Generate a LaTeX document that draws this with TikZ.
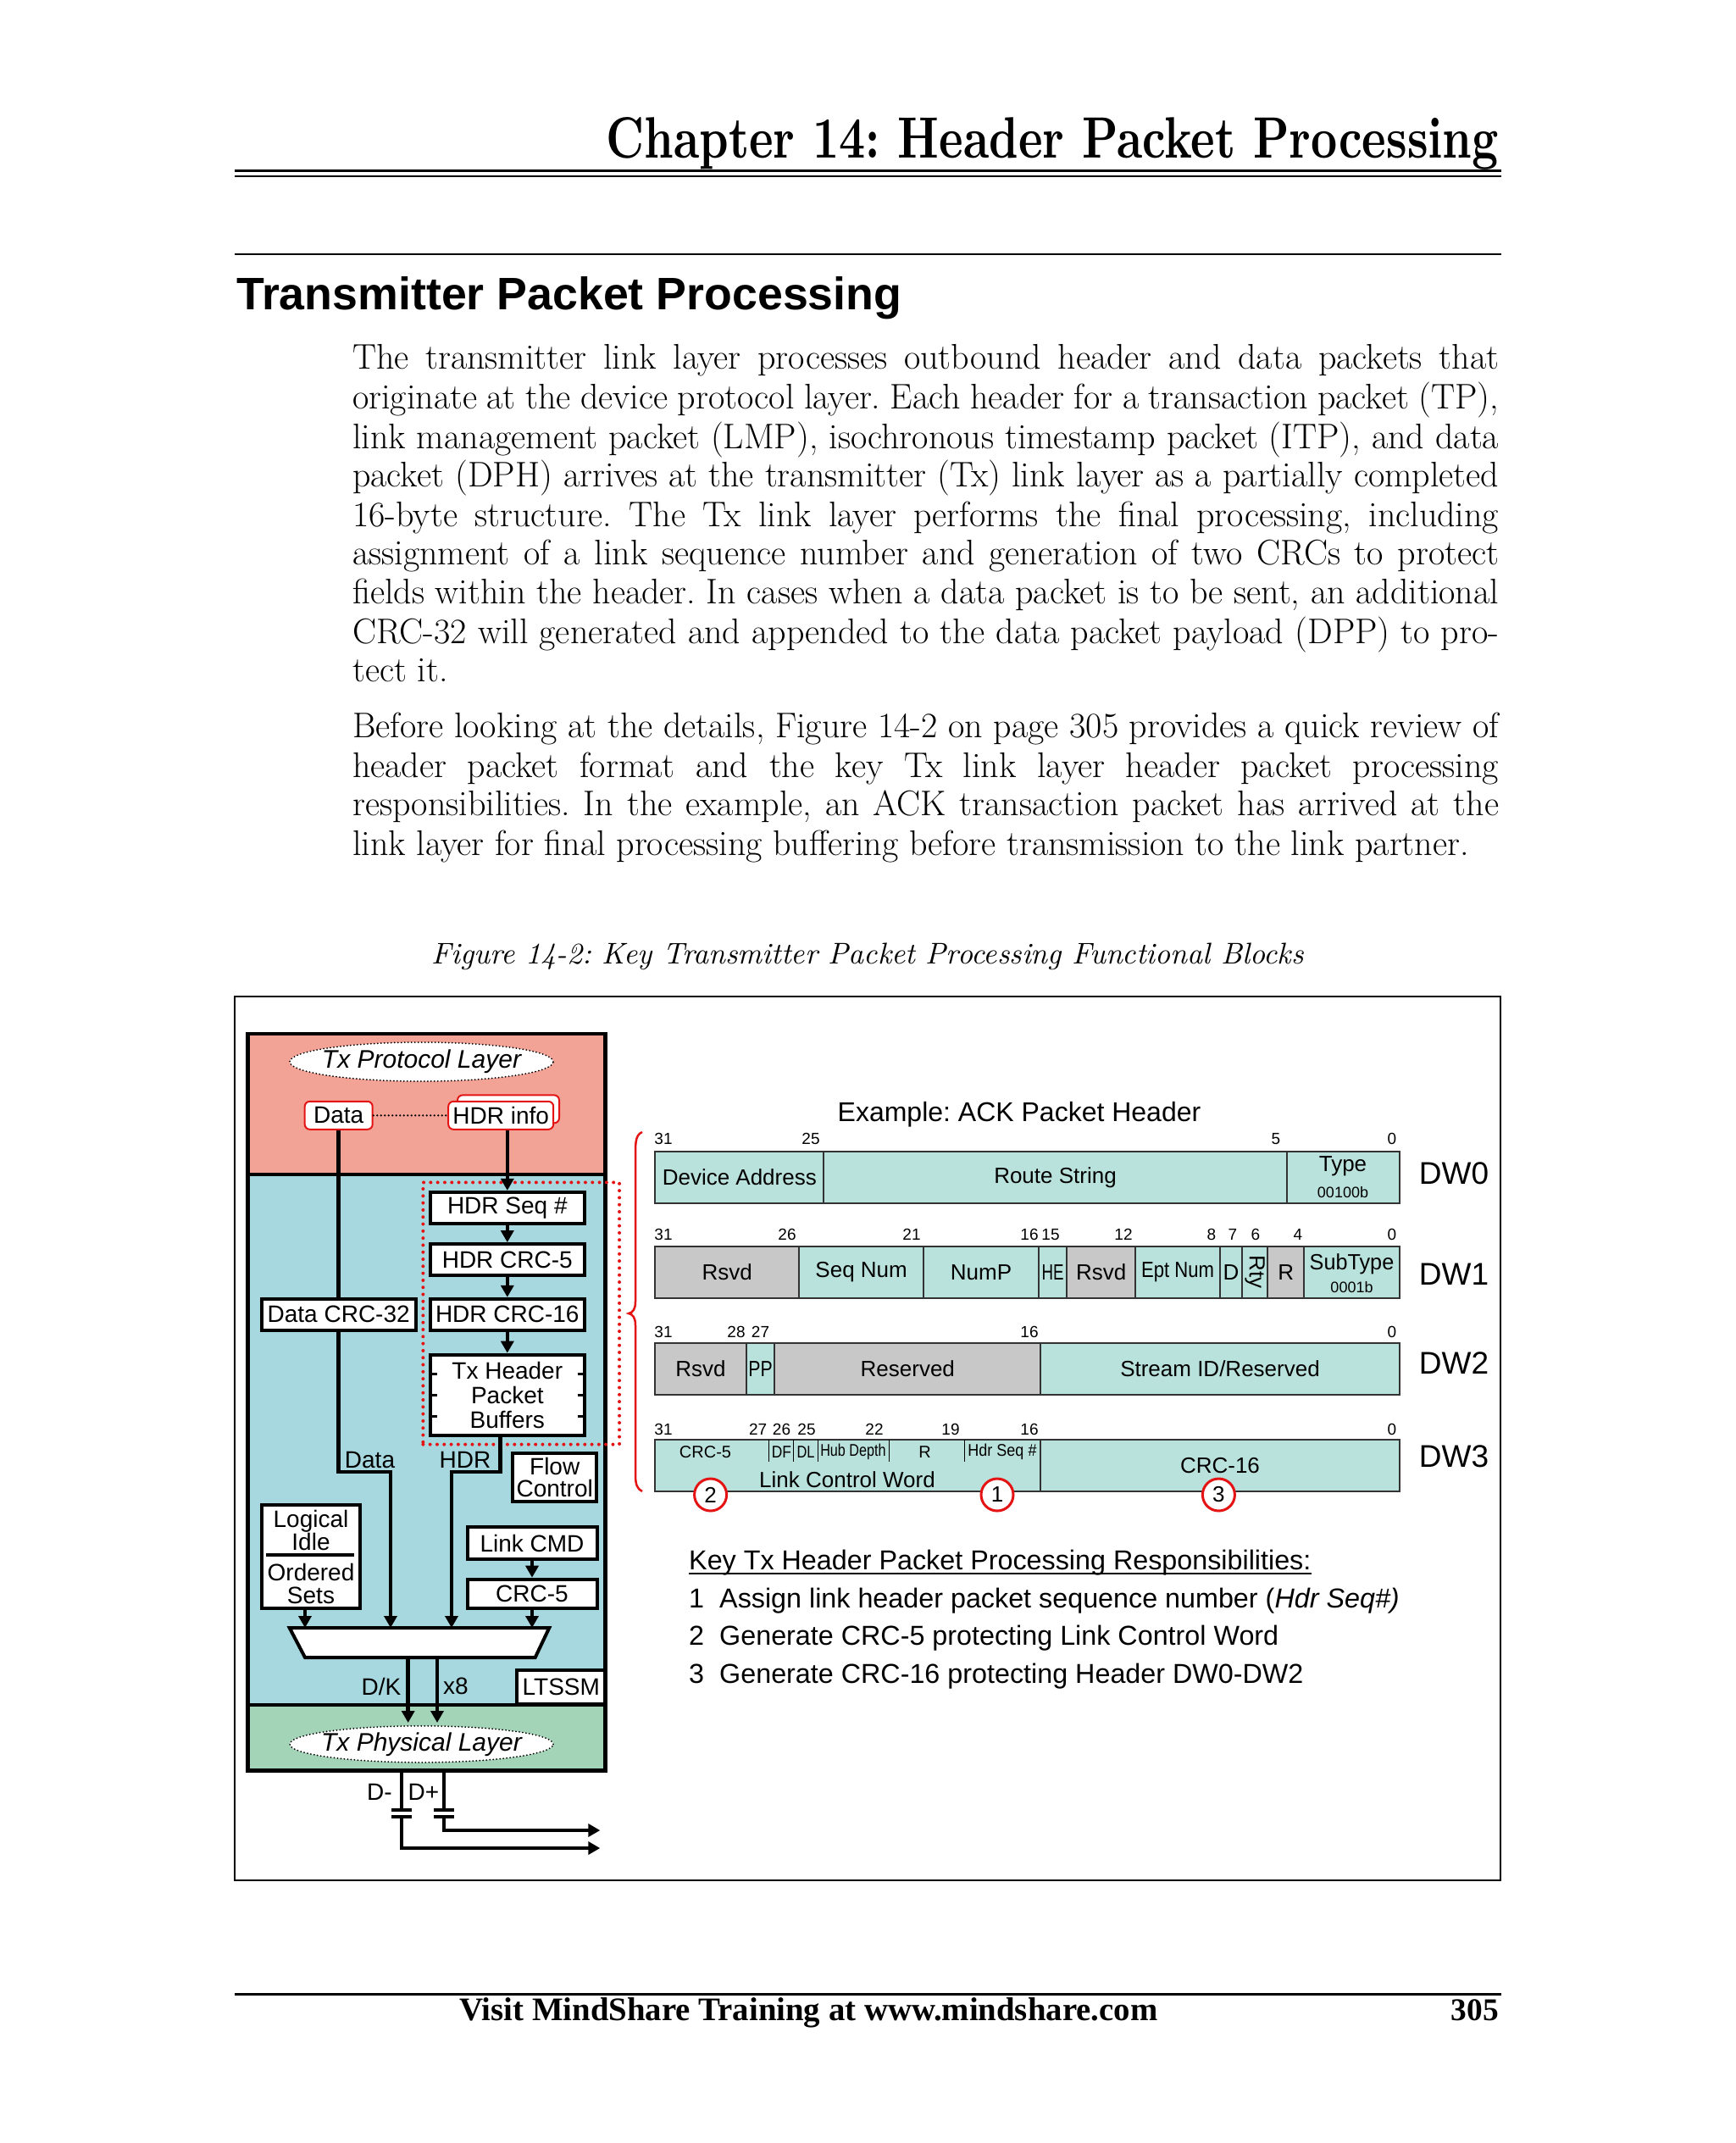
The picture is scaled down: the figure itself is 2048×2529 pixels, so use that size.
\documentclass[tikz,border=0pt]{standalone}
\usepackage{fontspec}
\usepackage{graphicx}
\usetikzlibrary{arrows.meta,shapes.geometric,calc}
\newfontfamily\arialf{Liberation Sans}
\newfontfamily\timesf{Liberation Serif}
\definecolor{salmon}{RGB}{243,163,150}
\definecolor{lblue}{RGB}{167,216,224}
\definecolor{lgreen}{RGB}{164,212,184}
\definecolor{hteal}{RGB}{186,226,220}
\definecolor{hgray}{RGB}{200,200,200}
\definecolor{dred}{RGB}{228,20,20}
\newcommand{\hcell}[7]{\node[hc, fill=#6, minimum width={#3-#2}, minimum height={#5-#4}] (#1) at ({(#2+#3)/2},{(#4+#5)/2}) {};
  \node[ht] (#1t) at ({(#2+#3)/2},{(#4+#5)/2}) {#7};}
\newcommand{\narrow}[2]{\scalebox{#1}[1]{#2}}
\frenchspacing
\begin{document}
\begin{tikzpicture}[x=1pt,y=-1pt,
  box/.style={draw, line width=4pt, fill=white, inner sep=0pt, align=center, font=\arialf\fontsize{28}{27}\selectfont},
  rbox/.style={draw=dred, line width=2pt, rounded corners=6pt, fill=white, inner sep=0pt, font=\arialf\fontsize{28}{27}\selectfont},
  ell/.style={ellipse, draw, line width=2pt, dash pattern=on 0pt off 4pt, line cap=round, fill=white, inner sep=0pt},
  elltext/.style={inner sep=0pt, font=\arialf\itshape\fontsize{30}{30}\selectfont},
  wire/.style={line width=4.5pt},
  arr/.style={line width=4.5pt, -{Triangle[length=14pt,width=15pt]}},
  lab/.style={inner sep=0pt, font=\arialf\fontsize{28}{27}\selectfont},
  hc/.style={draw=black!80, line width=2pt, inner sep=0pt},
  ht/.style={inner sep=0pt, align=center, font=\arialf\fontsize{26}{26}\selectfont},
  hs/.style={inner sep=0pt, font=\arialf\fontsize{20}{20}\selectfont},
  bits/.style={inner sep=0pt, font=\arialf\fontsize{19}{19}\selectfont},
  dwl/.style={inner sep=0pt, font=\arialf\fontsize{37}{37}\selectfont},
  circ/.style={circle, draw=dred, line width=3pt, fill=white, minimum size=38pt, inner sep=0pt, font=\arialf\fontsize{26}{26}\selectfont},
  key/.style={inner sep=0pt, anchor=base west, font=\arialf\fontsize{32.3}{32.3}\selectfont},
  body/.style={inner sep=0pt, anchor=base west, font=\fontsize{42}{48}\selectfont},
]
\fill[white] (0,0) rectangle (2048,2529);
\useasboundingbox (0,0) rectangle (2048,2529);

% ---------- page header ----------
\node[anchor=base east, inner sep=0pt] (title) at (1769,186) {\resizebox{1053pt}{48pt}{\bfseries Chapter 14: Header Packet Processing}};
\draw[line width=3pt] (277,201.5) -- (1772,201.5);
\draw[line width=2pt] (277,207.5) -- (1772,207.5);
\draw[line width=2pt] (277,300) -- (1772,300);
\node[anchor=base west, inner sep=0pt] (head) at (279,365) {\resizebox{785pt}{!}{\arialf\bfseries Transmitter Packet Processing}};

% ---------- body text ----------
\node[body] (p1a) at (416,435.5) {\makebox[1353pt][s]{The transmitter link layer processes outbound header and data packets that}};
\node[body] (p1b) at (416,482.3) {\makebox[1353pt][s]{originate at the device protocol layer. Each header for a transaction packet (TP),}};
\node[body] (p1c) at (416,529) {\makebox[1353pt][s]{link management packet (LMP), isochronous timestamp packet (ITP), and data}};
\node[body] (p1d) at (416,574.2) {\makebox[1353pt][s]{packet (DPH) arrives at the transmitter (Tx) link layer as a partially completed}};
\node[body] (p1e) at (416,621) {\makebox[1353pt][s]{16-byte structure. The Tx link layer performs the final processing, including}};
\node[body] (p1f) at (416,666.1) {\makebox[1353pt][s]{assignment of a link sequence number and generation of two CRCs to protect}};
\node[body] (p1g) at (416,712.9) {\makebox[1353pt][s]{fields within the header. In cases when a data packet is to be sent, an additional}};
\node[body] (p1h) at (416,759.6) {\makebox[1353pt][s]{CRC-32 will generated and appended to the data packet payload (DPP) to pro-}};
\node[body] (p1i) at (416,804.8) {tect it.};
\node[body] (p2a) at (416,870.9) {\makebox[1353pt][s]{Before looking at the details, Figure 14-2 on page 305 provides a quick review of}};
\node[body] (p2b) at (416,917.7) {\makebox[1353pt][s]{header packet format and the key Tx link layer header packet processing}};
\node[body] (p2c) at (416,962.8) {\makebox[1353pt][s]{responsibilities. In the example, an ACK transaction packet has arrived at the}};
\node[body] (p2d) at (416,1009.6) {link layer for final processing buffering before transmission to the link partner.};

% ---------- caption and frame ----------
\node[anchor=base, inner sep=0pt] (cap) at (1024,1137) {\resizebox{1029pt}{!}{\itshape Figure 14-2: Key Transmitter Packet Processing Functional Blocks}};
\draw[line width=2pt] (277,1176) rectangle (1771,2219);

% ---------- left block diagram ----------
\node[fill=salmon, minimum width=421.6pt, minimum height=165.7pt, inner sep=0pt] (prot) at (503.5,1302.85) {};
\node[fill=lblue, minimum width=421.6pt, minimum height=626.3pt, inner sep=0pt] (link) at (503.5,1698.85) {};
\node[fill=lgreen, minimum width=421.6pt, minimum height=77.3pt, inner sep=0pt] (phy) at (503.5,2050.65) {};
\draw[line width=4.5pt] (prot.north west) rectangle (phy.south east);
\draw[line width=4.5pt] (prot.south west) -- (prot.south east);
\draw[line width=4.5pt] (phy.north west) -- (phy.north east);

\node[ell, minimum width=311pt, minimum height=46pt] (protl) at (497.5,1253) {};
\node[elltext] (protlt) at (497.5,1253) {Tx Protocol Layer};
\node[rbox, minimum width=120pt, minimum height=33pt] (hdrsh) at (600,1308.9) {};
\node[rbox, minimum width=80pt, minimum height=33pt] (data) at (399.7,1316.3) {Data};
\node[rbox, minimum width=124pt, minimum height=33pt] (hdr) at (591.2,1316.3) {HDR info};
\draw[line width=2.5pt, dash pattern=on 0pt off 4.5pt, line cap=round] (data.east) -- (hdr.west);

\node[box, minimum width=182pt, minimum height=37pt] (seq) at (598.8,1425.4) {HDR Seq \#};
\node[box, minimum width=182pt, minimum height=37pt] (hcrc5) at (598.8,1486.6) {HDR CRC-5};
\node[box, minimum width=182pt, minimum height=37pt] (hcrc16) at (598.8,1551.3) {HDR CRC-16};
\node[box, minimum width=182pt, minimum height=95.5pt, font=\arialf\fontsize{28}{29}\selectfont] (buf) at (598.8,1646.4) {Tx Header\\Packet\\Buffers};
\foreach \yy in {1621.8,1646.8,1671.8} {
  \draw[line width=3pt] (507,\yy) -- (516,\yy);
  \draw[line width=3pt] (681.5,\yy) -- (690.7,\yy);
}
\node[box, minimum width=182pt, minimum height=37pt] (dcrc) at (399.7,1551.3) {Data CRC-32};

\node[draw=dred, line width=4pt, dash pattern=on 0pt off 8.3pt, line cap=round, minimum width=231.7pt, minimum height=309.2pt, inner sep=0pt] (grp) at (615.2,1550) {};

\draw[wire] (data.south) -- (dcrc.north);
\draw[arr] (hdr.south -| seq.north) -- (seq.north);
\draw[arr] (seq) -- (hcrc5);
\draw[arr] (hcrc5) -- (hcrc16);
\draw[arr] (hcrc16) -- (buf);

% mux
\coordinate (muxA) at (360,1921);
\coordinate (muxB) at (461,1921);
\coordinate (muxC) at (533,1921);
\coordinate (muxD) at (630,1921);
\coordinate (outA) at (481.7,1956);
\coordinate (outB) at (516,1956);
\draw[line width=4pt, fill=white] (341.7,1921) -- (648.3,1921) -- (631.7,1956) -- (360,1956) -- cycle;

\draw[arr] (dcrc.south) -- ++(0,165.2) -| (muxB);
\draw[arr] ($(buf.south)+(-8.5,0)$) -- ++(0,41) -| (muxC);
\node[lab] (ldata) at (436.5,1723.3) {Data};
\node[lab] (lhdr) at (549,1723.3) {HDR};

\node[box, minimum width=99pt, minimum height=57pt, font=\arialf\fontsize{28}{26}\selectfont] (flow) at (654.7,1743) {Flow\\Control};
\node[box, minimum width=116pt, minimum height=122pt] (lis) at (367,1836.7) {};
\node[lab, align=center] (lidle) at (367,1806) {Logical\\Idle};
\node[lab, align=center] (osets) at (367,1869) {Ordered\\Sets};
\draw[line width=4pt] (314,1835) -- (417.7,1835);
\node[box, minimum width=153pt, minimum height=38pt] (lcmd) at (628,1821.2) {Link CMD};
\node[box, minimum width=153pt, minimum height=34pt] (crc5) at (628,1880.7) {CRC-5};
\draw[arr] (lcmd) -- (crc5);
\draw[arr] (crc5.south) -- (crc5.south |- muxD);
\draw[arr] (lis.south -| muxA) -- (muxA);

\coordinate (phA) at (481.7,2033);
\coordinate (phB) at (516,2033);
\draw[arr] (outA) -- (phA);
\draw[arr] (outB) -- (phB);
\node[lab] (ldk) at (450,1990) {D/K};
\node[lab] (lx8) at (538,1990) {x8};
\node[box, minimum width=104pt, minimum height=40pt] (ltssm) at (662.3,1990.5) {LTSSM};
\node[ell, minimum width=311pt, minimum height=43pt] (phyl) at (497.5,2058.3) {};
\node[elltext] (phylt) at (497.5,2058.3) {Tx Physical Layer};

% outputs with capacitors
\coordinate (dm) at (474,2136);
\coordinate (dm2) at (474,2144.3);
\coordinate (dp) at (524,2136);
\coordinate (dp2) at (524,2144.3);
\coordinate (outm) at (708.3,2181);
\coordinate (outp) at (708.3,2160);
\draw[wire] (phy.south -| dm) -- (dm);
\draw[wire] (phy.south -| dp) -- (dp);
\draw[line width=4pt] (461.7,2136) -- (486,2136);
\draw[line width=4pt] (461.7,2144.3) -- (486,2144.3);
\draw[line width=4pt] (511.7,2136) -- (536,2136);
\draw[line width=4pt] (511.7,2144.3) -- (536,2144.3);
\draw[arr] (dm2) |- (outm);
\draw[arr] (dp2) |- (outp);
\node[lab] (ldm) at (448,2115) {D-};
\node[lab] (ldp) at (500,2115) {D+};

% ---------- right: header format ----------
\node[inner sep=0pt, font=\arialf\fontsize{32}{32}\selectfont] (ex) at (1203,1315) {Example: ACK Packet Header};
\draw[dred, line width=2.5pt] (758,1336) .. controls (751,1339) and (750,1346) .. (750,1360) -- (750,1536) .. controls (750,1545) and (747,1549) .. (742,1550) .. controls (747,1551) and (750,1555) .. (750,1564) -- (750,1740) .. controls (750,1752) and (752,1757) .. (758,1760);

% DW0
\hcell{da}{773.3}{972.3}{1359.3}{1420}{hteal}{Device Address}
\hcell{rs}{972.3}{1518.7}{1359.3}{1420}{hteal}{Route String}
\hcell{ty}{1518.7}{1651.7}{1359.3}{1420}{hteal}{}
\node[ht] (tyt) at (1585,1376.7) {Type};
\node[inner sep=0pt, font=\arialf\fontsize{18}{18}\selectfont] (tyv) at (1585,1406.7) {00100b};
\node[bits] (b0a) at (783,1344) {31};
\node[bits] (b0b) at (957,1344) {25};
\node[bits] (b0c) at (1506,1344) {5};
\node[bits] (b0d) at (1643,1344) {0};

% DW1
\hcell{r1a}{773.3}{943.3}{1470.7}{1531.7}{hgray}{Rsvd}
\hcell{r1b}{943.3}{1090}{1470.7}{1531.7}{hteal}{Seq Num}
\hcell{r1c}{1090}{1226}{1470.7}{1531.7}{hteal}{NumP}
\hcell{r1d}{1226}{1259.3}{1470.7}{1531.7}{hteal}{\narrow{0.72}{HE}}
\hcell{r1e}{1259.3}{1340}{1470.7}{1531.7}{hgray}{Rsvd}
\hcell{r1f}{1340}{1440}{1470.7}{1531.7}{hteal}{\narrow{0.85}{Ept Num}}
\hcell{r1g}{1440}{1466}{1470.7}{1531.7}{hteal}{D}
\hcell{r1h}{1466}{1496}{1470.7}{1531.7}{hteal}{}
\node[ht, rotate=-90] (rty) at (1481,1501.2) {Rty};
\hcell{r1i}{1496}{1539.3}{1470.7}{1531.7}{hgray}{R}
\hcell{r1j}{1539.3}{1651.7}{1470.7}{1531.7}{hteal}{}
\node[ht] (stt) at (1595.5,1491.7) {\narrow{0.97}{SubType}};
\node[inner sep=0pt, font=\arialf\fontsize{18}{18}\selectfont] (stv) at (1595.5,1519.5) {0001b};
\node[bits] (b1a) at (783,1457.3) {31};
\node[bits] (b1b) at (929,1457.3) {26};
\node[bits] (b1c) at (1076,1457.3) {21};
\node[bits] (b1d) at (1215,1457.3) {16};
\node[bits] (b1e) at (1240,1457.3) {15};
\node[bits] (b1f) at (1326,1457.3) {12};
\node[bits] (b1g) at (1430,1457.3) {8};
\node[bits] (b1h) at (1455,1457.3) {7};
\node[bits] (b1i) at (1482,1457.3) {6};
\node[bits] (b1j) at (1532,1457.3) {4};
\node[bits] (b1k) at (1643,1457.3) {0};

% DW2
\hcell{r2a}{773.3}{880.7}{1585}{1646}{hgray}{Rsvd}
\hcell{r2b}{880.7}{914.3}{1585}{1646}{hteal}{\narrow{0.82}{PP}}
\hcell{r2c}{914.3}{1228.3}{1585}{1646}{hgray}{Reserved}
\hcell{r2d}{1228.3}{1651.7}{1585}{1646}{hteal}{Stream ID/Reserved}
\node[bits] (b2a) at (783,1571.7) {31};
\node[bits] (b2b) at (869,1571.7) {28};
\node[bits] (b2c) at (897.5,1571.7) {27};
\node[bits] (b2d) at (1215,1571.7) {16};
\node[bits] (b2e) at (1643,1571.7) {0};

% DW3
\hcell{r3a}{773.3}{1228.3}{1699.3}{1760}{hteal}{}
\hcell{r3b}{1228.3}{1651.7}{1699.3}{1760}{hteal}{CRC-16}
\foreach \xx in {907.7,936.7,965.3,1049.3,1138.7} {\draw[line width=1.5pt] (\xx,1699.3) -- (\xx,1725);}
\node[hs] (s1) at (832.5,1713.3) {CRC-5};
\node[hs] (s2) at (922.5,1713.3) {\narrow{0.87}{DF}};
\node[hs] (s3) at (951,1713.3) {\narrow{0.82}{DL}};
\node[hs] (s4) at (1007,1713.3) {\narrow{0.81}{Hub Depth}};
\node[hs] (s5) at (1091.7,1713.3) {R};
\node[hs] (s6) at (1183,1713.3) {\narrow{0.9}{Hdr Seq \#}};
\node[ht] (lcw) at (1000,1746) {Link Control Word};
\node[bits] (b3a) at (783,1686.7) {31};
\node[bits] (b3b) at (894.7,1686.7) {27};
\node[bits] (b3c) at (922.5,1686.7) {26};
\node[bits] (b3d) at (952,1686.7) {25};
\node[bits] (b3e) at (1032,1686.7) {22};
\node[bits] (b3f) at (1122,1686.7) {19};
\node[bits] (b3g) at (1215,1686.7) {16};
\node[bits] (b3h) at (1643,1686.7) {0};

\node[circ] (c2) at (838.6,1764) {2};
\node[circ] (c1) at (1177,1764) {1};
\node[circ] (c3) at (1438.4,1764) {3};

\node[dwl] (dw0) at (1716,1385) {DW0};
\node[dwl] (dw1) at (1716,1503.3) {DW1};
\node[dwl] (dw2) at (1716,1608.3) {DW2};
\node[dwl] (dw3) at (1716,1718.3) {DW3};

% key responsibilities
\node[key] (kt) at (813,1852) {Key Tx Header Packet Processing Responsibilities:};
\draw[line width=2.5pt] (813,1857) -- (kt.east |- 0,1857);
\node[key] (n1) at (813,1897.3) {1};
\node[key] (k1) at (849,1897.3) {Assign link header packet sequence number (\textit{Hdr Seq\#)}};
\node[key] (n2) at (813,1941.7) {2};
\node[key] (k2) at (849,1941.7) {Generate CRC-5 protecting Link Control Word};
\node[key] (n3) at (813,1986.7) {3};
\node[key] (k3) at (849,1986.7) {Generate CRC-16 protecting Header DW0-DW2};

% ---------- footer ----------
\draw[line width=3pt] (277,2353) -- (1772,2353);
\node[anchor=base west, inner sep=0pt] (foot) at (542,2384) {\resizebox{824pt}{!}{\timesf\bfseries Visit MindShare Training at www.mindshare.com}};
\node[anchor=base east, inner sep=0pt] (pg) at (1769,2384) {\resizebox{56pt}{!}{\timesf\bfseries 305}};
\end{tikzpicture}
\end{document}
